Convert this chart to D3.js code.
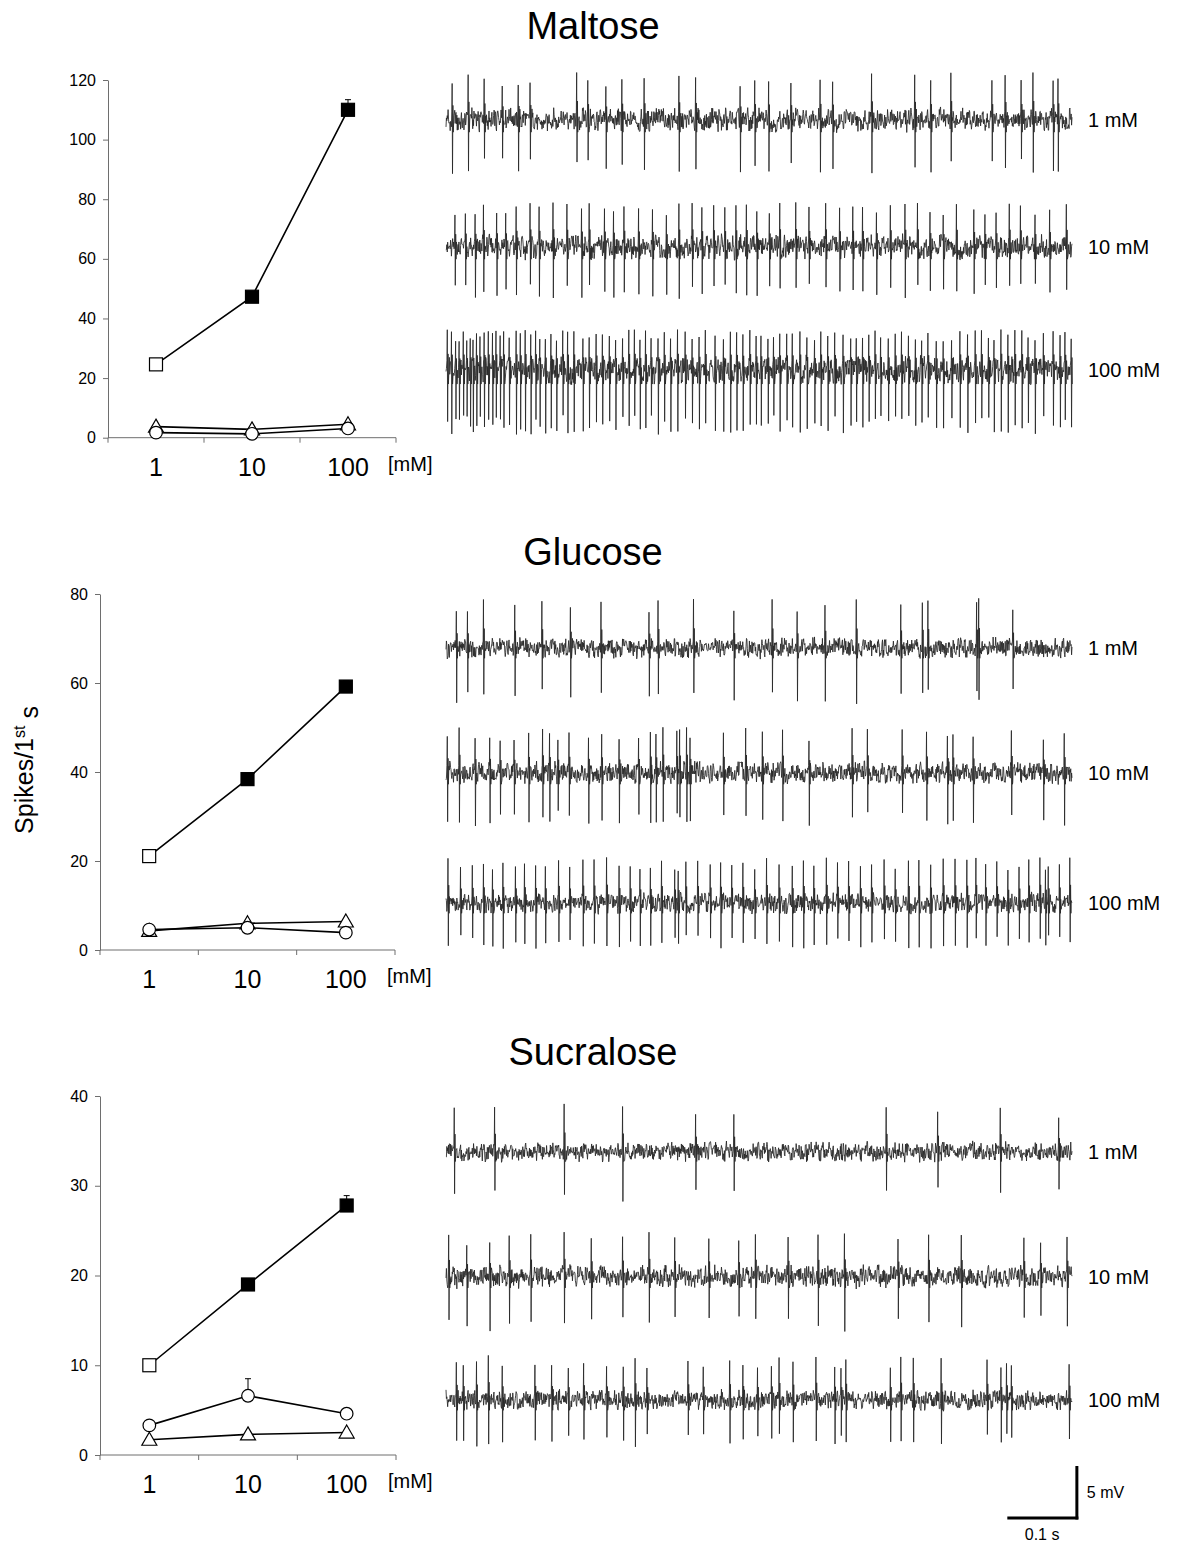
<!DOCTYPE html>
<html><head><meta charset="utf-8">
<script src="https://cdn.jsdelivr.net/npm/d3@7"></script>
<style>
body{margin:0;background:#fff}
svg{display:block}
text{font-family:"Liberation Sans",Arial,Helvetica,sans-serif;fill:#000}
</style>
</head><body>
<svg id="c" width="1184" height="1546"></svg>
<script>
// ---------------- DATA ----------------
const concentrations = ["1", "10", "100"];
const sugarNames = ["Maltose", "Glucose", "Sucralose"];
const doseLabels = ["1 mM", "10 mM", "100 mM"];
const unitLabel = "[mM]";

const maltoseYTicks = [0, 20, 40, 60, 80, 100, 120];
const glucoseYTicks = [0, 20, 40, 60, 80];
const sucraloseYTicks = [0, 10, 20, 30, 40];

// Spikes / 1st s
const maltoseSquare = [24.6, 47.3, 110.0];
const maltoseSquareErr = [0, 0, 3.4];
const maltoseCircle = [1.7, 1.3, 3.1];
const maltoseCircleErr = [0, 0, 0];
const maltoseTriangle = [3.7, 2.8, 4.5];
const maltoseTriangleErr = [0, 0, 0];

const glucoseSquare = [21.1, 38.4, 59.2];
const glucoseSquareErr = [0, 0.6, 1.3];
const glucoseCircle = [4.6, 5.0, 3.9];
const glucoseCircleErr = [0, 0, 0];
const glucoseTriangle = [4.3, 6.0, 6.4];
const glucoseTriangleErr = [0, 0, 0];

const sucraloseSquare = [10.0, 19.0, 27.8];
const sucraloseSquareErr = [0, 0, 1.1];
const sucraloseCircle = [3.3, 6.6, 4.6];
const sucraloseCircleErr = [0, 1.9, 0];
const sucraloseTriangle = [1.7, 2.3, 2.5];
const sucraloseTriangleErr = [0, 0, 0];

// filled square = significant
const squareFilled = [false, true, true];

// Spike times (ms) in the recordings
const maltose1mM = [9,32,55,81,104,121,188,204,230,253,285,335,359,423,444,464,496,538,556,612,674,697,726,785,804,827,844,873,880];
const maltose10mM = [13,28,42,54,73,86,101,121,134,154,174,195,206,228,241,256,277,297,317,335,354,368,385,401,417,432,447,465,480,503,522,546,566,585,599,619,639,660,678,696,715,734,759,775,791,810,826,847,868,892];
const maltose100mM = [2,8,14,19,25,30,35,39,44,49,55,61,67,72,78,83,91,101,107,114,122,129,135,143,151,159,168,175,184,197,206,216,225,235,244,254,263,271,279,287,295,305,314,323,333,344,354,364,373,387,399,409,418,427,437,446,453,463,471,480,490,498,509,519,530,539,549,559,571,582,590,599,608,617,625,636,646,655,665,675,684,693,705,715,727,739,750,761,770,780,788,798,808,818,828,837,847,859,873,883,890,899];
const glucose1mM = [15,31,54,99,138,179,223,292,305,356,414,469,505,545,590,654,685,693,763,766,815];
const glucose10mM = [2,19,42,63,78,98,119,139,149,161,177,205,224,249,277,294,302,312,332,336,346,351,399,431,455,484,522,584,606,656,691,721,729,758,813,859,889];
const glucose100mM = [3,21,38,54,67,82,100,113,129,143,162,178,197,213,231,249,265,279,294,310,329,334,345,362,380,395,411,427,444,461,479,498,514,529,547,563,579,596,612,630,646,665,680,697,715,732,749,762,776,792,808,824,838,854,862,866,882,897];
const sucralose1mM = [12,70,170,254,359,414,633,707,797,881];
const sucralose10mM = [4,30,63,91,122,170,209,254,292,329,378,421,445,492,535,573,650,694,741,831,855,893];
const sucralose100mM = [15,25,44,61,81,128,152,176,198,231,255,272,289,348,370,408,427,448,468,479,499,532,559,568,575,639,654,672,712,778,798,806,813,896];

// spike amplitudes (mV, max up / max down) and baseline noise (mV)
const maltoseSpikeUp = [4.6, 4.3, 3.9];
const maltoseSpikeDown = [5.2, 5.0, 6.2];
const maltoseNoise = [1.3, 1.3, 1.5];
const glucoseSpikeUp = [4.8, 4.4, 4.4];
const glucoseSpikeDown = [5.4, 5.1, 4.4];
const glucoseNoise = [1.1, 1.2, 1.1];
const sucraloseSpikeUp = [4.6, 4.3, 4.3];
const sucraloseSpikeDown = [4.8, 5.3, 4.6];
const sucraloseNoise = [1.05, 1.2, 1.1];

const recordingMs = 900;
const scaleBarMs = 100;
const scaleBarMv = 5;

// ---------------- LAYOUT ----------------
const panels = [
  {name: sugarNames[0], ticks: maltoseYTicks, left: 108, right: 396, top: 80, bottom: 437.7, titleY: 39,
   sq: maltoseSquare, sqE: maltoseSquareErr, ci: maltoseCircle, ciE: maltoseCircleErr, tr: maltoseTriangle, trE: maltoseTriangleErr,
   traceY: [120, 247, 370], spikes: [maltose1mM, maltose10mM, maltose100mM], up: maltoseSpikeUp, down: maltoseSpikeDown, noise: maltoseNoise},
  {name: sugarNames[1], ticks: glucoseYTicks, left: 100, right: 395, top: 594, bottom: 950, titleY: 565,
   sq: glucoseSquare, sqE: glucoseSquareErr, ci: glucoseCircle, ciE: glucoseCircleErr, tr: glucoseTriangle, trE: glucoseTriangleErr,
   traceY: [648, 773, 903], spikes: [glucose1mM, glucose10mM, glucose100mM], up: glucoseSpikeUp, down: glucoseSpikeDown, noise: glucoseNoise},
  {name: sugarNames[2], ticks: sucraloseYTicks, left: 100, right: 396, top: 1096, bottom: 1455, titleY: 1065,
   sq: sucraloseSquare, sqE: sucraloseSquareErr, ci: sucraloseCircle, ciE: sucraloseCircleErr, tr: sucraloseTriangle, trE: sucraloseTriangleErr,
   traceY: [1151.7, 1276.7, 1400], spikes: [sucralose1mM, sucralose10mM, sucralose100mM], up: sucraloseSpikeUp, down: sucraloseSpikeDown, noise: sucraloseNoise}
];

const svg = d3.select("#c");
const tScale = d3.scaleLinear().domain([0, recordingMs]).range([446, 1072]);
const mv = d3.scaleLinear().domain([-5, 5]).range([52, -52]);

// deterministic texture for the baseline noise of the recordings
function tex(i, s) { const v = Math.sin(i * 12.9898 + s * 78.233) * 43758.5453; return (v - Math.floor(v)) * 2 - 1; }

function tracePoints(spikes, up, down, noise, seed) {
  const pts = [];
  const step = 0.6;
  for (let i = 0; i * step <= recordingMs; i++) {
    const t = i * step;
    if (spikes.some(s => t > s - 0.9 && t < s + 1.8)) continue;
    pts.push([t, noise * (0.6 * tex(i, seed) + 0.4 * tex(Math.floor(i / 3), seed + 7))]);
  }
  spikes.forEach((s, k) => {
    const f = 0.85 + 0.15 * tex(k, seed + 3);
    const g = 0.85 + 0.15 * tex(k, seed + 5);
    pts.push([s - 0.6, noise * 0.6], [s - 0.15, up * f], [s + 0.35, -down * g], [s + 0.95, up * 0.4 * f], [s + 1.45, -noise * 0.9]);
  });
  pts.sort((a, b) => a[0] - b[0]);
  return pts;
}

const lineT = d3.line().x(d => tScale(d[0])).y(d => mv(d[1]));

panels.forEach((p, pi) => {
  const g = svg.append("g");
  const x = d3.scaleBand().domain(concentrations).range([p.left, p.right]).padding(0);
  const y = d3.scaleLinear().domain([p.ticks[0], p.ticks[p.ticks.length - 1]]).range([p.bottom, p.top]);
  const cx = c => x(c) + x.bandwidth() / 2;

  // title
  g.append("text").attr("x", 593).attr("y", p.titleY).attr("text-anchor", "middle")
    .style("font-size", "38px").text(p.name);

  // y axis
  const ya = g.append("g").attr("transform", `translate(${p.left},0)`)
    .call(d3.axisLeft(y).tickValues(p.ticks).tickSize(5).tickSizeOuter(0).tickPadding(7));
  ya.select(".domain").attr("stroke", "#6e6e6e");
  ya.selectAll(".tick line").attr("stroke", "#6e6e6e");
  ya.selectAll(".tick text").style("font-size", "16px").style("font-family", "'Liberation Sans',Arial,sans-serif").attr("fill", "#000");

  // x axis
  g.append("line").attr("x1", p.left).attr("x2", p.right).attr("y1", p.bottom).attr("y2", p.bottom).attr("stroke", "#6e6e6e");
  const edges = concentrations.map(c => x(c)).concat([p.right]);
  g.selectAll(".xt").data(edges).enter().append("line")
    .attr("x1", d => d).attr("x2", d => d).attr("y1", p.bottom).attr("y2", p.bottom + 5).attr("stroke", "#6e6e6e");
  g.selectAll(".xl").data(concentrations).enter().append("text")
    .attr("x", d => cx(d)).attr("y", p.bottom + 38).attr("text-anchor", "middle")
    .style("font-size", "25px").text(d => d);
  g.append("text").attr("x", p.right - 8).attr("y", p.bottom + 33).style("font-size", "20px").text(unitLabel);

  // series
  const series = [
    {v: p.sq, e: p.sqE, shape: "square"},
    {v: p.ci, e: p.ciE, shape: "circle"},
    {v: p.tr, e: p.trE, shape: "triangle"}
  ];
  const line = d3.line().x((d, i) => cx(concentrations[i])).y(d => y(d));
  series.forEach(s => {
    g.append("path").attr("d", line(s.v)).attr("fill", "none").attr("stroke", "#000").attr("stroke-width", 1.6);
  });
  series.forEach(s => {
    s.e.forEach((e, i) => {
      if (e <= 0) return;
      const xx = cx(concentrations[i]);
      g.append("line").attr("x1", xx).attr("x2", xx).attr("y1", y(s.v[i])).attr("y2", y(s.v[i] + e)).attr("stroke", "#000").attr("stroke-width", 1);
      g.append("line").attr("x1", xx - 3).attr("x2", xx + 3).attr("y1", y(s.v[i] + e)).attr("y2", y(s.v[i] + e)).attr("stroke", "#000").attr("stroke-width", 1);
    });
  });
  // markers: triangles, circles, then squares on top
  [series[2], series[1], series[0]].forEach(s => {
    s.v.forEach((v, i) => {
      const xx = cx(concentrations[i]), yy = y(v);
      if (s.shape === "square") {
        g.append("rect").attr("x", xx - 6.5).attr("y", yy - 6.5).attr("width", 13).attr("height", 13)
          .attr("fill", squareFilled[i] ? "#000" : "#fff").attr("stroke", "#000").attr("stroke-width", 1.2);
      } else if (s.shape === "circle") {
        g.append("circle").attr("cx", xx).attr("cy", yy).attr("r", 6.3)
          .attr("fill", "#fff").attr("stroke", "#000").attr("stroke-width", 1.2);
      } else {
        g.append("path").attr("d", `M${xx},${yy - 7.5}L${xx + 7.5},${yy + 5.5}L${xx - 7.5},${yy + 5.5}Z`)
          .attr("fill", "#fff").attr("stroke", "#000").attr("stroke-width", 1.2);
      }
    });
  });

  // recordings
  p.spikes.forEach((sp, k) => {
    const tg = svg.append("g").attr("transform", `translate(0,${p.traceY[k]})`);
    tg.append("path").attr("d", lineT(tracePoints(sp, p.up[k], p.down[k], p.noise[k], pi * 3 + k + 1)))
      .attr("fill", "none").attr("stroke", "#262626").attr("stroke-width", 0.85).attr("stroke-linejoin", "round");
    tg.append("text").attr("x", 1088).attr("y", 0).attr("dy", "0.36em").style("font-size", "20px").text(doseLabels[k]);
  });
});

// y label
svg.append("text").attr("transform", "translate(33,770) rotate(-90)").attr("text-anchor", "middle")
  .style("font-size", "25px")
  .call(t => {
    t.append("tspan").text("Spikes/1");
    t.append("tspan").attr("dy", "-0.5em").style("font-size", "16px").text("st");
    t.append("tspan").attr("dy", "0.5em").text(" s");
  });

// scale bar
const barX1 = tScale(recordingMs + 7), barX0 = tScale(recordingMs + 7 - scaleBarMs);
const barY = 1518;
const barH = mv(0) - mv(scaleBarMv);
svg.append("line").attr("x1", barX0).attr("x2", barX1 + 1.5).attr("y1", barY).attr("y2", barY).attr("stroke", "#000").attr("stroke-width", 3);
svg.append("line").attr("x1", barX1).attr("x2", barX1).attr("y1", barY + 1.5).attr("y2", barY - barH).attr("stroke", "#000").attr("stroke-width", 3);
svg.append("text").attr("x", barX1 + 10).attr("y", barY - barH / 2 + 6).style("font-size", "16px").text(scaleBarMv + " mV");
svg.append("text").attr("x", (barX0 + barX1) / 2).attr("y", 1540).attr("text-anchor", "middle").style("font-size", "16px").text((scaleBarMs / 1000) + " s");
</script>
</body></html>
